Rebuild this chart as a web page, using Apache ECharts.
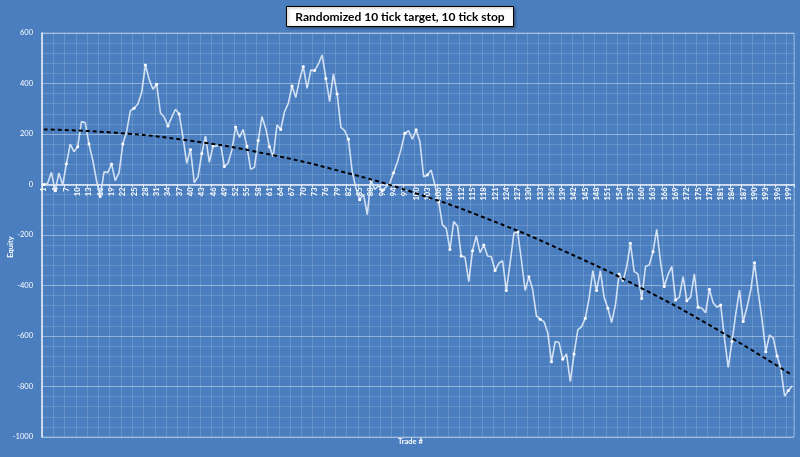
<!DOCTYPE html>
<html>
<head>
<meta charset="utf-8">
<script src="https://cdn.jsdelivr.net/npm/echarts@6/dist/echarts.min.js"></script>
<style>
html,body{margin:0;padding:0;background:#4a7ebf;}
#chart{width:800px;height:457px;}
</style>
</head>
<body>
<div id="chart"></div>
<script>
// Equity after each trade
const equity = [
  0, 5, 48, -25, 46, -2, 82, 160, 130, 150,
  249, 245, 160, 97, 15, -48, 50, 47, 81, 15,
  47, 160, 209, 292, 302, 319, 364, 473, 416, 377,
  397, 284, 266, 232, 266, 298, 279, 187, 84, 139,
  7, 31, 123, 192, 88, 152, 152, 160, 71, 85,
  137, 228, 187, 218, 151, 60, 68, 174, 269, 222,
  150, 110, 236, 218, 288, 321, 390, 345, 416, 467,
  381, 453, 451, 477, 513, 420, 328, 438, 358, 226,
  213, 179, 51, -15, -60, -38, -119, 18, -20, -5,
  -25, -10, 5, 47, 88, 140, 203, 213, 179, 217,
  170, 31, 38, 57, -2, -68, -160, -174, -257, -147,
  -164, -283, -288, -385, -262, -204, -270, -240, -283, -286,
  -341, -312, -302, -420, -310, -193, -187, -299, -420, -365,
  -416, -520, -534, -543, -587, -702, -622, -626, -692, -671,
  -781, -671, -576, -563, -530, -451, -341, -420, -341, -447,
  -490, -547, -477, -354, -385, -325, -233, -345, -354, -451,
  -325, -319, -266, -178, -306, -404, -356, -325, -457, -447,
  -365, -460, -447, -354, -486, -490, -508, -415, -468, -486,
  -477, -609, -724, -622, -513, -418, -543, -486, -418, -310,
  -428, -534, -662, -596, -609, -679, -728, -838, -816, -798
];
// Trade numbers (x categories)
const trades = equity.map((v, i) => String(i + 1));
// Trend line, read at a few trades
const trendTrades = ['1', '20', '40', '60', '80', '100', '120', '140', '160', '180', '200'];
const trendValues = [218, 205, 173, 122, 52, -35, -142, -268, -411, -574, -755];
// Y axis ticks
const yMin = -1000, yMax = 600, yStep = 200;

const titleText = 'Randomized 10 tick target, 10 tick stop';
const xName = 'Trade #';
const yName = 'Equity';

const gridLeft = 42, gridRight = 6, gridTop = 33, gridBottom = 20;
const plotH = 457 - gridTop - gridBottom;
// shift x axis from the bottom of the plot up to the zero line
const zeroOffset = -plotH * (0 - yMin) / (yMax - yMin);

const chart = echarts.init(document.getElementById('chart'));
chart.setOption({
  backgroundColor: '#4a7ebf',
  animation: false,
  textStyle: { fontFamily: 'Lato, Open Sans, sans-serif' },
  title: {
    text: titleText,
    left: 'center',
    top: 6,
    backgroundColor: '#ffffff',
    borderColor: '#000000',
    borderWidth: 1,
    padding: [5, 9, 4, 9],
    textStyle: { color: '#000', fontSize: 12, fontWeight: 'bold', fontFamily: 'Lato, Open Sans, sans-serif' },
    shadowColor: 'rgba(0,0,0,0.4)', shadowBlur: 3, shadowOffsetX: 1, shadowOffsetY: 1
  },
  grid: { left: gridLeft, right: gridRight, top: gridTop, bottom: gridBottom, containLabel: false, outerBoundsMode: 'none' },
  xAxis: {
    type: 'category',
    data: trades,
    boundaryGap: true,
    offset: zeroOffset,
    axisLine: { show: true, onZero: false, lineStyle: { color: '#e8eef7', width: 1.5 } },
    axisTick: { show: true, interval: 2, length: 3, lineStyle: { color: '#e8eef7' } },
    axisLabel: { interval: 2, rotate: 90, color: '#ffffff', fontSize: 7.5, margin: 3, fontWeight: 'bold' },
    splitLine: { show: true, interval: 2, lineStyle: { color: 'rgba(255,255,255,0.16)', width: 1 } }
  },
  yAxis: {
    type: 'value',
    min: yMin, max: yMax, interval: yStep,
    axisLine: { show: true, lineStyle: { color: '#e8eef7', width: 1.5 } },
    axisTick: { show: false },
    axisLabel: { color: '#ffffff', fontSize: 7.5, margin: 9, formatter: v => String(v) },
    splitLine: { show: true, lineStyle: { color: 'rgba(255,255,255,0.4)', width: 1 } },
    minorTick: { show: false, splitNumber: 5 },
    minorSplitLine: { show: true, lineStyle: { color: 'rgba(255,255,255,0.15)', width: 1 } }
  },
  graphic: [{
    type: 'text',
    left: 398, top: 438,
    style: { text: xName, fill: '#ffffff', font: 'bold 7.5px Lato, Open Sans, sans-serif' }
  }, {
    type: 'text',
    x: 11, y: 247,
    rotation: Math.PI / 2,
    style: { text: yName, fill: '#ffffff', font: 'bold 7.5px Lato, Open Sans, sans-serif', align: 'center', verticalAlign: 'middle' }
  }, {
    type: 'rect',
    shape: { x: gridLeft, y: gridTop, width: 800 - gridLeft - gridRight, height: plotH },
    style: { fill: 'none', stroke: 'rgba(255,255,255,0.35)', lineWidth: 1 },
    silent: true
  }],
  series: [{
    type: 'line',
    name: 'Equity',
    data: equity,
    symbol: 'circle',
    symbolSize: 3,
    showSymbol: true,
    itemStyle: { color: '#ffffff', borderWidth: 0 },
    lineStyle: { color: 'rgba(225,235,248,0.9)', width: 1.6 },
    z: 3
  }, {
    type: 'line',
    name: 'Trend',
    data: trendTrades.map((t, i) => [t, trendValues[i]]),
    smooth: true,
    symbol: 'none',
    lineStyle: { color: '#000000', width: 2, type: [4, 3] },
    z: 4
  }]
});
</script>
</body>
</html>
